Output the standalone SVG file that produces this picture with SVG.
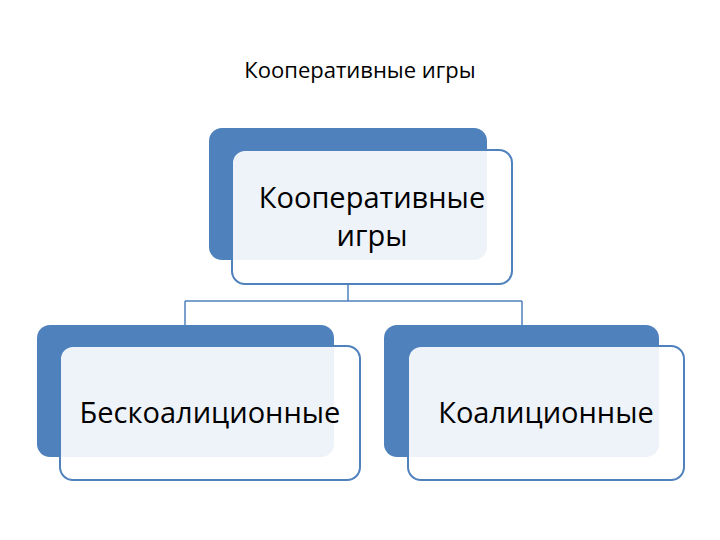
<svg xmlns="http://www.w3.org/2000/svg" width="720" height="540" viewBox="0 0 720 540">
<style>
.back{fill:#4f81bd}
.front{fill:#ffffff;fill-opacity:0.9;stroke:#4f81bd;stroke-width:2}
.t{font-family:"Open Sans","Liberation Sans",sans-serif;fill:#000;text-anchor:middle}
.c{stroke:#4f81bd;stroke-width:1.5;fill:none}
</style>
<rect width="720" height="540" fill="#fff"/>
<text class="t" x="360" y="78" font-size="22">Кооперативные игры</text>
<g id="connectors">
<path class="c" d="M348 284V301M185 301H522M185 301V325M522 301V325"/>
</g>
<g id="top">
<rect class="back" x="209" y="128" width="278" height="132" rx="13"/>
<rect class="front" x="232" y="150" width="280" height="134" rx="13"/>
<text class="t" x="372" y="208" font-size="29">Кооперативные</text>
<text class="t" x="372" y="246" font-size="29">игры</text>
</g>
<g id="left">
<rect class="back" x="37" y="325" width="297" height="132" rx="13"/>
<rect class="front" x="60" y="346" width="300" height="134" rx="13"/>
<text class="t" x="210" y="423" font-size="29">Бескоалиционные</text>
</g>
<g id="right">
<rect class="back" x="384" y="325" width="275" height="132" rx="13"/>
<rect class="front" x="408" y="346" width="276" height="134" rx="13"/>
<text class="t" x="546" y="423" font-size="29">Коалиционные</text>
</g>
</svg>
